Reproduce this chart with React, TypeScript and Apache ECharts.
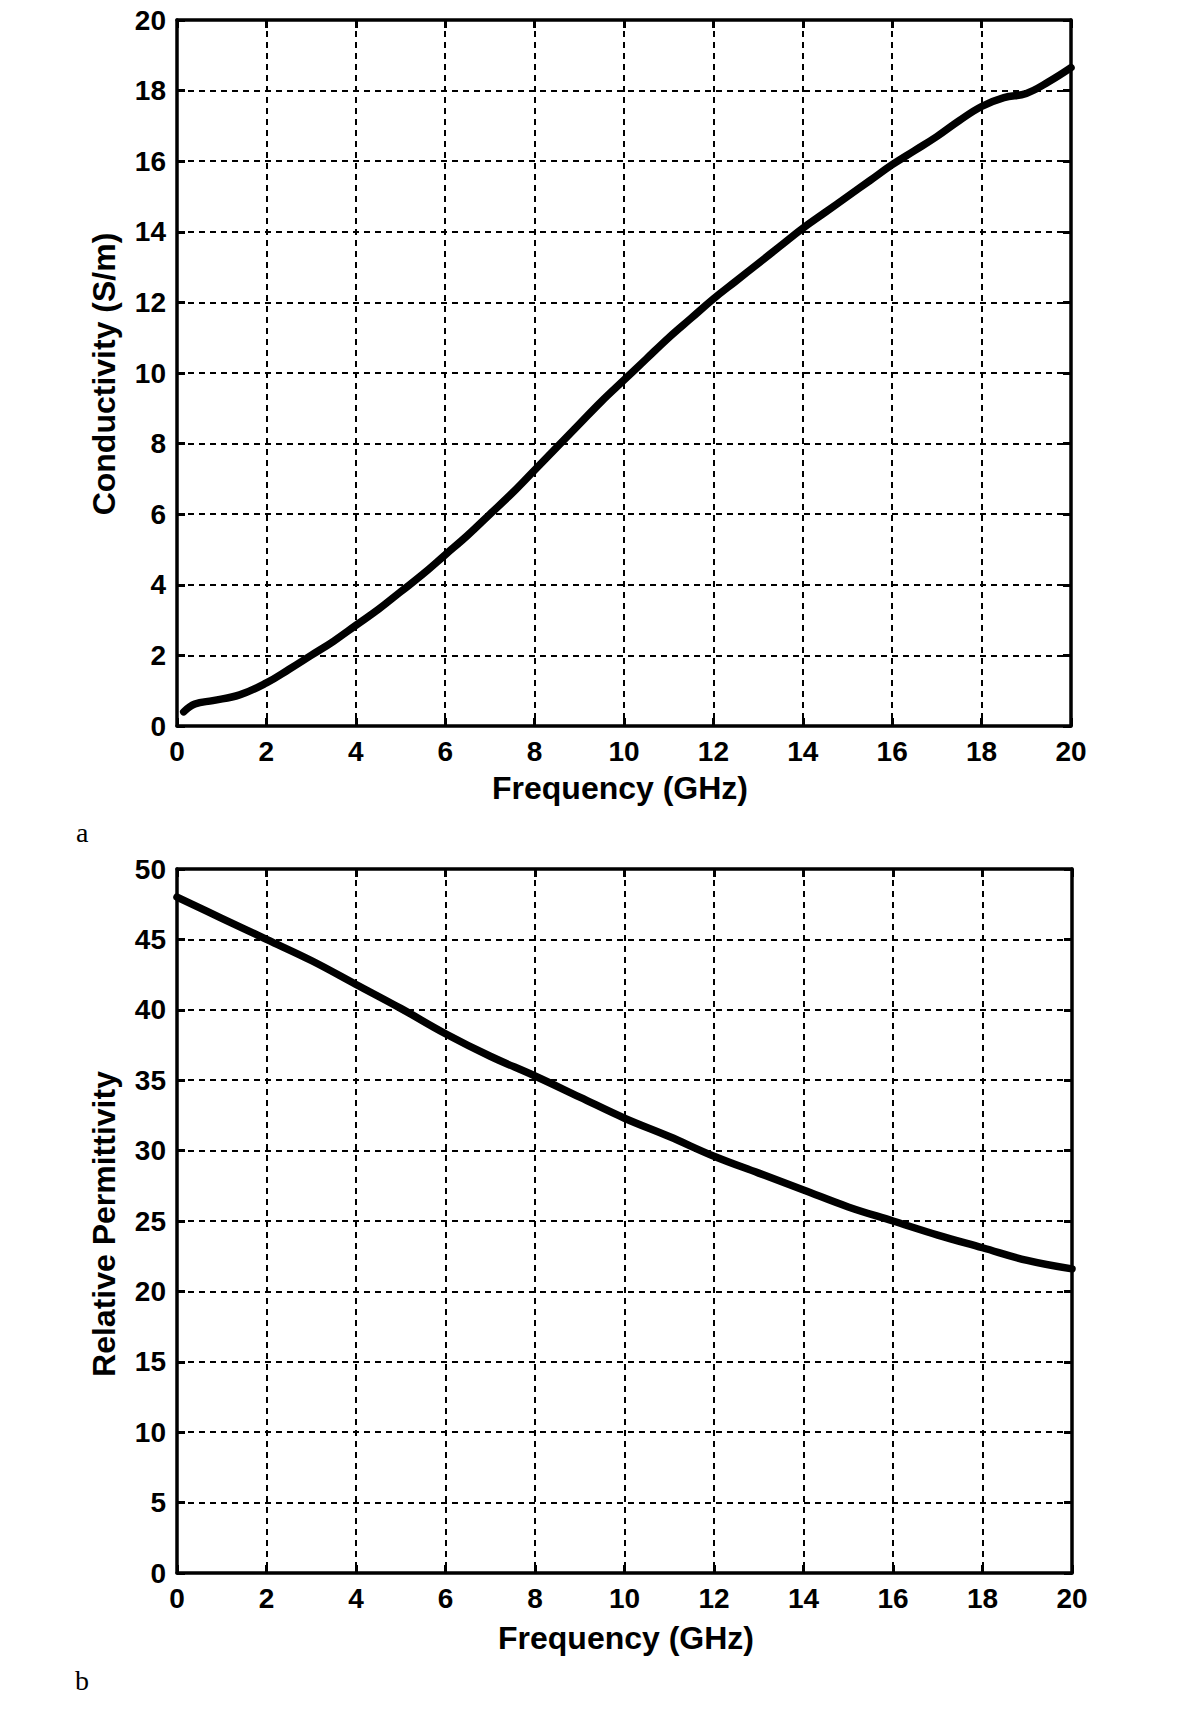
import React, { useEffect, useRef } from "react";
import * as echarts from "echarts";

const condFreq = [0.15, 0.4, 0.8, 1.4, 2, 2.5, 3, 3.5, 4, 4.5, 5, 5.5, 6, 6.5, 7, 7.5, 8, 8.5, 9, 9.5, 10, 10.5, 11, 11.5, 12, 12.5, 13, 13.5, 14, 14.5, 15, 15.5, 16, 16.5, 17, 17.5, 18, 18.5, 19, 19.5, 20];
const condValues = [0.4, 0.62, 0.72, 0.88, 1.22, 1.6, 2.0, 2.4, 2.85, 3.3, 3.8, 4.3, 4.85, 5.4, 6.0, 6.6, 7.25, 7.9, 8.55, 9.2, 9.8, 10.4, 11.0, 11.55, 12.1, 12.6, 13.1, 13.6, 14.1, 14.55, 15.0, 15.45, 15.9, 16.3, 16.7, 17.15, 17.55, 17.8, 17.92, 18.25, 18.65];

const permFreq = [0, 1, 2, 3, 4, 5, 6, 7, 8, 9, 10, 11, 12, 13, 14, 15, 16, 17, 18, 19, 20];
const permValues = [48.0, 46.5, 45.0, 43.5, 41.8, 40.1, 38.3, 36.7, 35.3, 33.8, 32.3, 31.0, 29.6, 28.4, 27.2, 26.0, 25.0, 24.0, 23.1, 22.2, 21.6];

const xTicks = { min: 0, max: 20, interval: 2 };
const condTicks = { min: 0, max: 20, interval: 2 };
const permTicks = { min: 0, max: 50, interval: 5 };

const xTitle = "Frequency (GHz)";
const condTitle = "Conductivity (S/m)";
const permTitle = "Relative Permittivity";

const tickFont = "'Liberation Sans', Arial, sans-serif";
const titleFont = "'Liberation Sans', Arial, sans-serif";

export default function App() {
  const ref = useRef<HTMLDivElement>(null);
  useEffect(() => {
    document.body.style.margin = "0";
    if (!ref.current) return;
    const chart = echarts.init(ref.current, undefined, { renderer: "svg" });

    const grids = [
      { left: 177, top: 20, width: 894, height: 706 },
      { left: 177, top: 869, width: 895, height: 704 },
    ];

    const labelStyle = {
      fontFamily: tickFont,
      fontWeight: "bold" as const,
      fontSize: 28,
      color: "#000",
    };
    const axisLine = { show: true, onZero: false, lineStyle: { color: "#000", width: 3.5 } };
    const axisTick = { show: true, inside: true, length: 8, lineStyle: { color: "#000", width: 3 } };
    const splitLine = { show: true, lineStyle: { color: "#000", width: 2, type: [6, 5] as any } };

    const xAxes: any[] = [];
    const yAxes: any[] = [];
    const yTickSets = [condTicks, permTicks];
    [0, 1].forEach((g) => {
      xAxes.push({
        type: "value", gridIndex: g, position: "bottom", ...xTicks,
        axisLine, axisTick, splitLine,
        axisLabel: { ...labelStyle, margin: 11 },
      });
      xAxes.push({
        type: "value", gridIndex: g, position: "top", ...xTicks,
        axisLine, axisTick, splitLine: { show: false }, axisLabel: { show: false },
      });
      yAxes.push({
        type: "value", gridIndex: g, position: "left", ...yTickSets[g],
        axisLine, axisTick, splitLine,
        axisLabel: { ...labelStyle, margin: 11 },
      });
      yAxes.push({
        type: "value", gridIndex: g, position: "right", ...yTickSets[g],
        axisLine, axisTick, splitLine: { show: false }, axisLabel: { show: false },
      });
    });

    const lineStyle = { color: "#000", width: 7.5, cap: "round" as const, join: "round" as const };

    const titleStyle = (text: string) => ({
      text, font: `bold 32px ${titleFont}`, fill: "#000", align: "center", verticalAlign: "middle",
    });

    chart.setOption({
      animation: false,
      backgroundColor: "#fff",
      grid: grids,
      xAxis: xAxes,
      yAxis: yAxes,
      series: [
        {
          type: "line", xAxisIndex: 0, yAxisIndex: 0, smooth: 0.4, symbol: "none",
          lineStyle, data: condFreq.map((f, i) => [f, condValues[i]]),
        },
        {
          type: "line", xAxisIndex: 2, yAxisIndex: 2, smooth: 0.4, symbol: "none",
          lineStyle, data: permFreq.map((f, i) => [f, permValues[i]]),
        },
      ],
      graphic: [
        { type: "text", x: 620, y: 788, style: titleStyle(xTitle) },
        { type: "text", x: 626, y: 1638, style: titleStyle(xTitle) },
        { type: "text", x: 104, y: 374, rotation: Math.PI / 2, style: titleStyle(condTitle) },
        { type: "text", x: 104, y: 1224, rotation: Math.PI / 2, style: titleStyle(permTitle) },
        {
          type: "text", x: 76, y: 832,
          style: { text: "a", font: `28px 'Liberation Serif', 'Times New Roman', serif`, fill: "#000", align: "left", verticalAlign: "middle" },
        },
        {
          type: "text", x: 75, y: 1680,
          style: { text: "b", font: `28px 'Liberation Serif', 'Times New Roman', serif`, fill: "#000", align: "left", verticalAlign: "middle" },
        },
      ],
    });
    return () => chart.dispose();
  }, []);
  return <div ref={ref} style={{ width: 1200, height: 1721 }} />;
}
